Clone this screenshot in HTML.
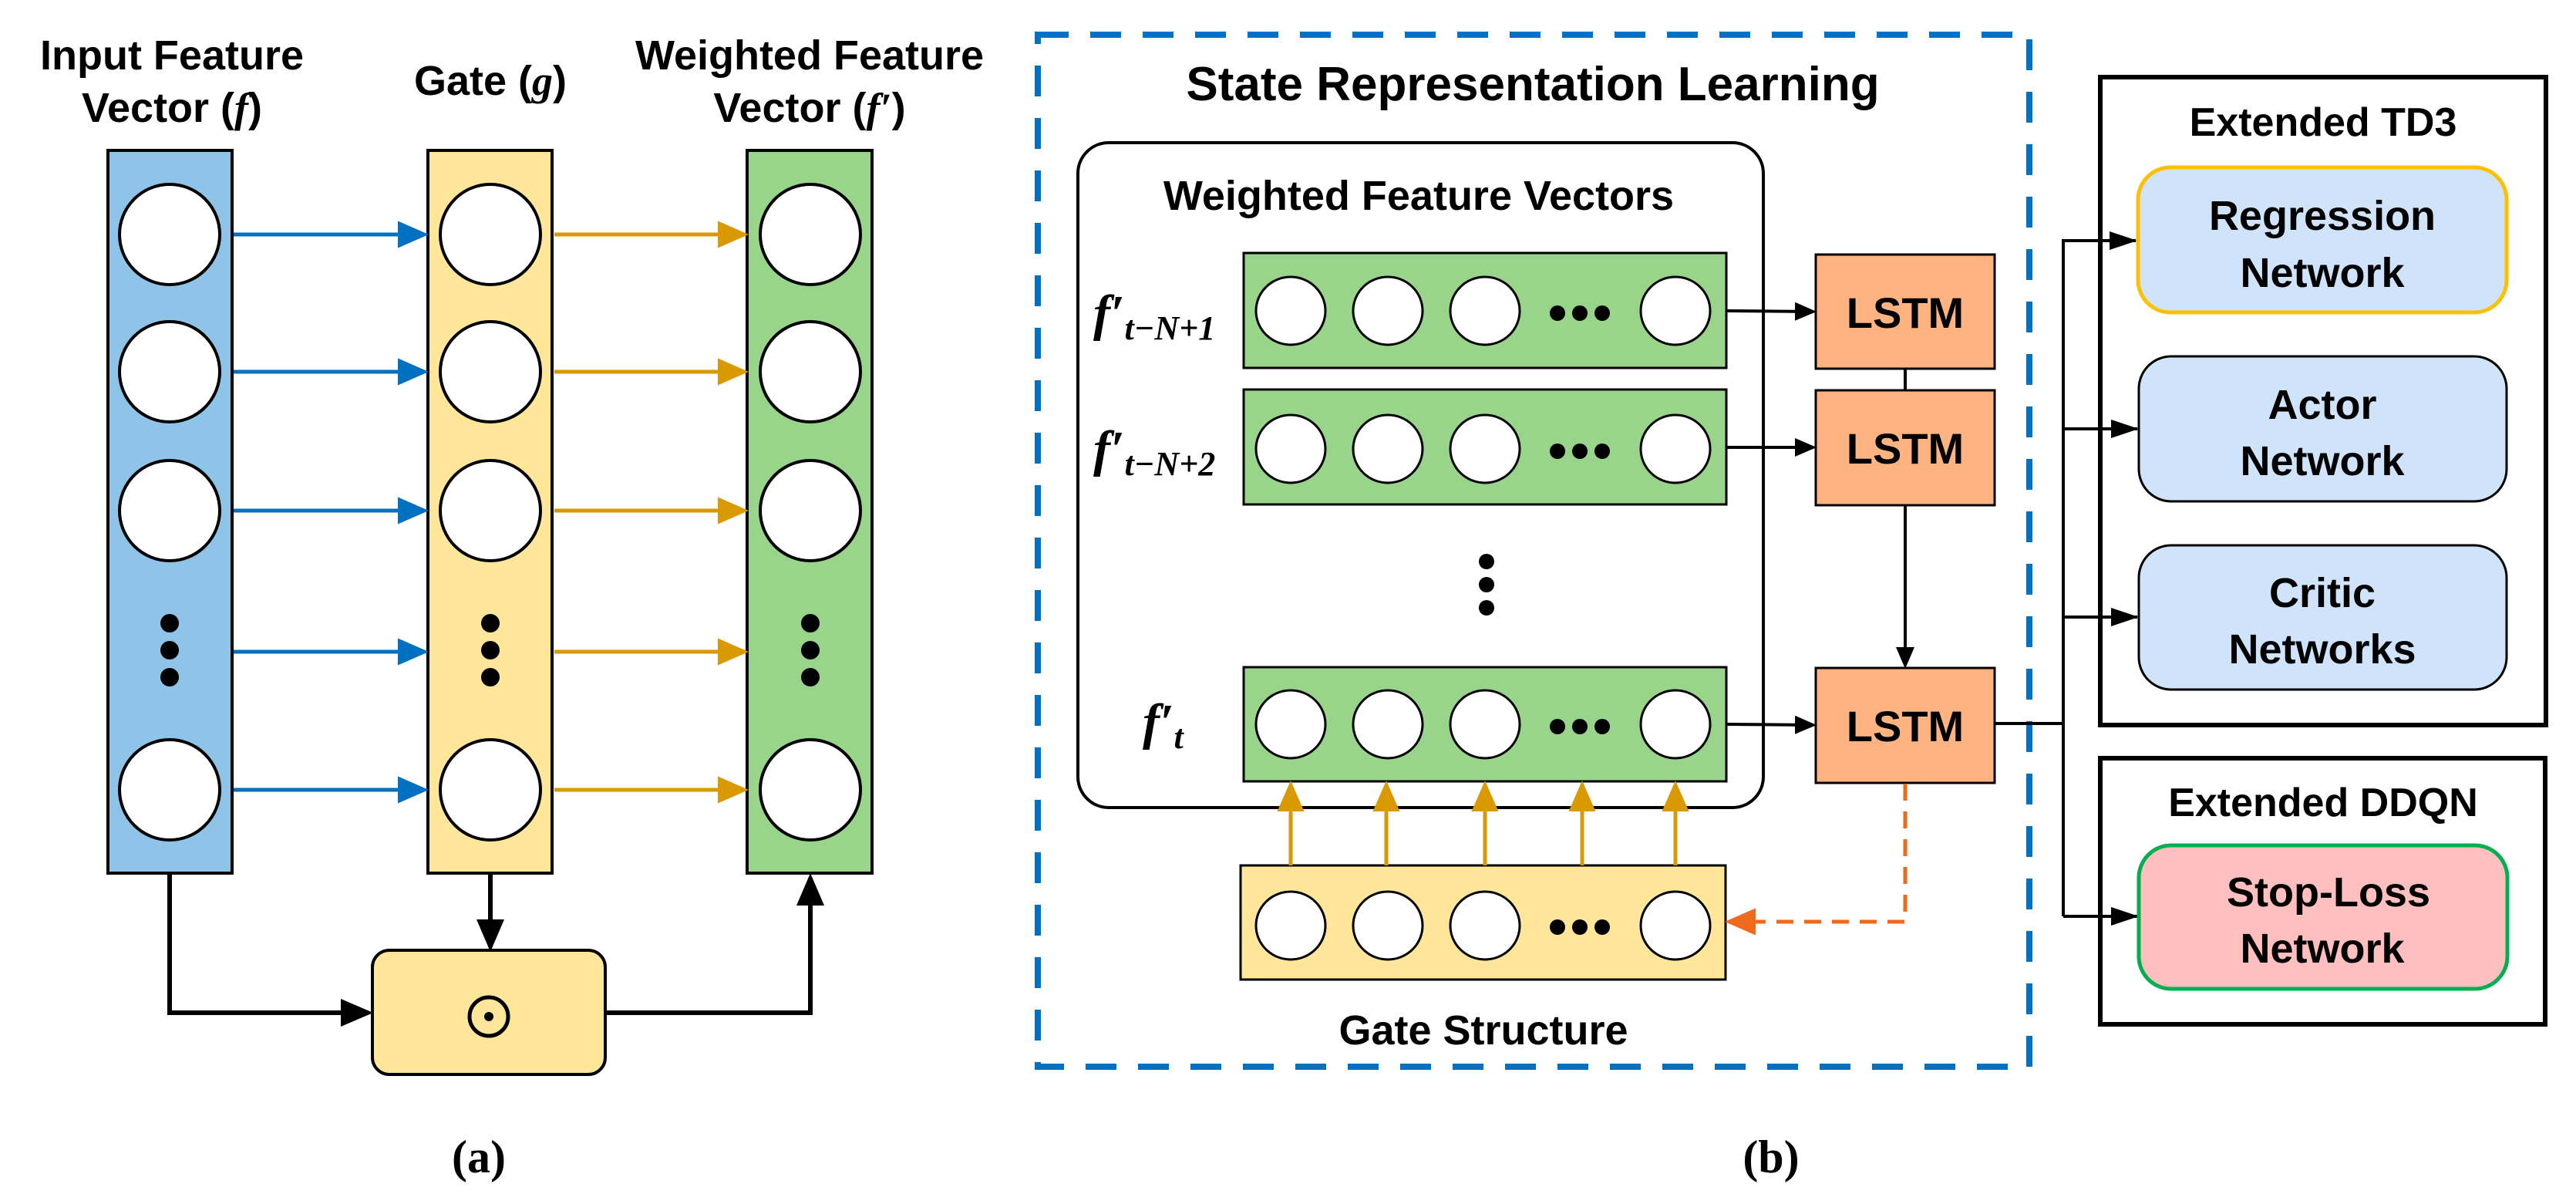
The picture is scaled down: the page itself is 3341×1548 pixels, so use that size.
<!DOCTYPE html>
<html><head><meta charset="utf-8"><style>
html,body{margin:0;padding:0;background:#fff;}
svg{display:block;}
text{font-family:"Liberation Sans",Arial,sans-serif;font-weight:bold;fill:#000;}
.serif{font-family:"Liberation Serif",serif;}
</style></head><body>
<svg width="3341" height="1548" viewBox="0 0 3341 1548" xmlns="http://www.w3.org/2000/svg">
<defs>
<marker id="ab" markerWidth="8" markerHeight="8" refX="7" refY="4" orient="auto" markerUnits="strokeWidth"><path d="M0,0.5 L8,4 L0,7.5 z" fill="#0070C0"/></marker>
<marker id="ao" markerWidth="8" markerHeight="8" refX="7" refY="4" orient="auto" markerUnits="strokeWidth"><path d="M0,0.5 L8,4 L0,7.5 z" fill="#D89A00"/></marker>
<marker id="ak" markerWidth="7" markerHeight="7" refX="6" refY="3.5" orient="auto" markerUnits="strokeWidth"><path d="M0,0.5 L7,3.5 L0,6.5 z" fill="#000"/></marker>
<marker id="ak2" markerWidth="9" markerHeight="8" refX="8.5" refY="4" orient="auto" markerUnits="strokeWidth"><path d="M0,1 L9,4 L0,7 z" fill="#000"/></marker>
<marker id="ar" markerWidth="8" markerHeight="8" refX="7" refY="4" orient="auto" markerUnits="strokeWidth"><path d="M0,0.5 L8,4 L0,7.5 z" fill="#F06A1E"/></marker>
</defs>

<!-- Panel (a) -->
<text x="223" y="90" font-size="54" text-anchor="middle">Input Feature</text>
<text x="223" y="158" font-size="54" text-anchor="middle">Vector (<tspan class="serif" font-style="italic">f</tspan>)</text>
<text x="636" y="123" font-size="54" text-anchor="middle">Gate (<tspan class="serif" font-style="italic">g</tspan>)</text>
<text x="1050" y="90" font-size="54" text-anchor="middle">Weighted Feature</text>
<text x="1050" y="158" font-size="54" text-anchor="middle">Vector (<tspan class="serif" font-style="italic">f′</tspan>)</text>

<rect x="140" y="195" width="161" height="937" fill="#8EC4E8" stroke="#000" stroke-width="4"/>
<rect x="555" y="195" width="161" height="937" fill="#FFE699" stroke="#000" stroke-width="4"/>
<rect x="969" y="195" width="162" height="937" fill="#98D48A" stroke="#000" stroke-width="4"/>
<g fill="#fff" stroke="#000" stroke-width="4">
<circle cx="220" cy="304" r="65"/><circle cx="220" cy="482" r="65"/><circle cx="220" cy="662" r="65"/><circle cx="220" cy="1024" r="65"/>
<circle cx="636" cy="304" r="65"/><circle cx="636" cy="482" r="65"/><circle cx="636" cy="662" r="65"/><circle cx="636" cy="1024" r="65"/>
<circle cx="1051" cy="304" r="65"/><circle cx="1051" cy="482" r="65"/><circle cx="1051" cy="662" r="65"/><circle cx="1051" cy="1024" r="65"/>
</g>
<g fill="#000">
<circle cx="220" cy="808" r="12"/><circle cx="220" cy="843" r="12"/><circle cx="220" cy="878" r="12"/>
<circle cx="636" cy="808" r="12"/><circle cx="636" cy="843" r="12"/><circle cx="636" cy="878" r="12"/>
<circle cx="1051" cy="808" r="12"/><circle cx="1051" cy="843" r="12"/><circle cx="1051" cy="878" r="12"/>
</g>
<g stroke="#0070C0" stroke-width="5" marker-end="url(#ab)">
<line x1="303" y1="304" x2="551" y2="304"/><line x1="303" y1="482" x2="551" y2="482"/><line x1="303" y1="662" x2="551" y2="662"/><line x1="303" y1="845" x2="551" y2="845"/><line x1="303" y1="1024" x2="551" y2="1024"/>
</g>
<g stroke="#D89A00" stroke-width="5" marker-end="url(#ao)">
<line x1="719" y1="304" x2="966" y2="304"/><line x1="719" y1="482" x2="966" y2="482"/><line x1="719" y1="662" x2="966" y2="662"/><line x1="719" y1="845" x2="966" y2="845"/><line x1="719" y1="1024" x2="966" y2="1024"/>
</g>
<rect x="483" y="1232" width="302" height="161" rx="22" fill="#FFE699" stroke="#000" stroke-width="4"/>
<circle cx="634" cy="1318" r="25" fill="none" stroke="#000" stroke-width="5"/>
<circle cx="634" cy="1318" r="6" fill="#000"/>
<g stroke="#000" stroke-width="6" fill="none">
<polyline points="220,1133 220,1313 478,1313" marker-end="url(#ak)"/>
<line x1="636" y1="1133" x2="636" y2="1228" marker-end="url(#ak)"/>
<polyline points="786,1313 1051,1313 1051,1138" marker-end="url(#ak)"/>
</g>
<text x="621" y="1520" font-size="60" class="serif" text-anchor="middle">(a)</text>

<!-- Panel (b) -->
<rect x="1346" y="45" width="1286" height="1338" fill="none" stroke="#0070C0" stroke-width="8" stroke-dasharray="40,28"/>
<text x="1988" y="130" font-size="62" text-anchor="middle">State Representation Learning</text>
<rect x="1398" y="185" width="889" height="862" rx="40" fill="none" stroke="#000" stroke-width="4"/>
<text x="1840" y="272" font-size="54" text-anchor="middle">Weighted Feature Vectors</text>

<g fill="#98D48A" stroke="#000" stroke-width="3">
<rect x="1613" y="328" width="626" height="149"/>
<rect x="1613" y="505" width="626" height="149"/>
<rect x="1613" y="865" width="626" height="148"/>
</g>
<rect x="1609" y="1122" width="629" height="148" fill="#FFE699" stroke="#000" stroke-width="3"/>
<g fill="#fff" stroke="#000" stroke-width="3">
<ellipse cx="1674" cy="403" rx="45" ry="44"/><ellipse cx="1800" cy="403" rx="45" ry="44"/><ellipse cx="1926" cy="403" rx="45" ry="44"/><ellipse cx="2173" cy="403" rx="45" ry="44"/>
<ellipse cx="1674" cy="582" rx="45" ry="44"/><ellipse cx="1800" cy="582" rx="45" ry="44"/><ellipse cx="1926" cy="582" rx="45" ry="44"/><ellipse cx="2173" cy="582" rx="45" ry="44"/>
<ellipse cx="1674" cy="939" rx="45" ry="44"/><ellipse cx="1800" cy="939" rx="45" ry="44"/><ellipse cx="1926" cy="939" rx="45" ry="44"/><ellipse cx="2173" cy="939" rx="45" ry="44"/>
<ellipse cx="1674" cy="1200" rx="45" ry="44"/><ellipse cx="1800" cy="1200" rx="45" ry="44"/><ellipse cx="1926" cy="1200" rx="45" ry="44"/><ellipse cx="2173" cy="1200" rx="45" ry="44"/>
</g>
<g fill="#000">
<circle cx="2020" cy="406" r="10"/><circle cx="2049" cy="406" r="10"/><circle cx="2078" cy="406" r="10"/>
<circle cx="2020" cy="585" r="10"/><circle cx="2049" cy="585" r="10"/><circle cx="2078" cy="585" r="10"/>
<circle cx="2020" cy="942" r="10"/><circle cx="2049" cy="942" r="10"/><circle cx="2078" cy="942" r="10"/>
<circle cx="2020" cy="1202" r="10"/><circle cx="2049" cy="1202" r="10"/><circle cx="2078" cy="1202" r="10"/>
<circle cx="1928" cy="728" r="10"/><circle cx="1928" cy="758" r="10"/><circle cx="1928" cy="788" r="10"/>
</g>
<text x="1418" y="428" font-size="66" class="serif" font-style="italic">f′<tspan font-size="44" dy="12">t−N+1</tspan></text>
<text x="1418" y="604" font-size="66" class="serif" font-style="italic">f′<tspan font-size="44" dy="12">t−N+2</tspan></text>
<text x="1482" y="958" font-size="66" class="serif" font-style="italic">f′<tspan font-size="44" dy="12">t</tspan></text>

<g fill="#FFB380" stroke="#000" stroke-width="3">
<rect x="2355" y="330" width="232" height="148"/>
<rect x="2355" y="506" width="232" height="149"/>
<rect x="2355" y="866" width="232" height="149"/>
</g>
<text x="2471" y="425" font-size="56" text-anchor="middle">LSTM</text>
<text x="2471" y="601" font-size="56" text-anchor="middle">LSTM</text>
<text x="2471" y="961" font-size="56" text-anchor="middle">LSTM</text>
<g stroke="#000" stroke-width="4" fill="none">
<line x1="2239" y1="403" x2="2352" y2="404" marker-end="url(#ak)"/>
<line x1="2239" y1="580" x2="2352" y2="580" marker-end="url(#ak)"/>
<line x1="2239" y1="939" x2="2352" y2="940" marker-end="url(#ak)"/>
<line x1="2471" y1="478" x2="2471" y2="506"/>
<line x1="2471" y1="655" x2="2471" y2="863" marker-end="url(#ak)"/>
</g>
<g stroke="#D89A00" stroke-width="5" marker-end="url(#ao)">
<line x1="1674" y1="1122" x2="1674" y2="1017"/><line x1="1798" y1="1122" x2="1798" y2="1017"/><line x1="1926" y1="1122" x2="1926" y2="1017"/><line x1="2052" y1="1122" x2="2052" y2="1017"/><line x1="2173" y1="1122" x2="2173" y2="1017"/>
</g>
<polyline points="2471,1016 2471,1195 2242,1195" fill="none" stroke="#F06A1E" stroke-width="5" stroke-dasharray="22,14" marker-end="url(#ar)"/>
<text x="1924" y="1354" font-size="54" text-anchor="middle">Gate Structure</text>
<text x="2297" y="1520" font-size="60" class="serif" text-anchor="middle">(b)</text>

<!-- Right -->
<g stroke="#000" stroke-width="4" fill="none">
<polyline points="2588,938 2676,938"/>
<line x1="2676" y1="310" x2="2676" y2="1188"/>
<line x1="2676" y1="312" x2="2770" y2="312" marker-end="url(#ak2)"/>
<line x1="2676" y1="556" x2="2772" y2="556" marker-end="url(#ak2)"/>
<line x1="2676" y1="800" x2="2772" y2="800" marker-end="url(#ak2)"/>
<line x1="2676" y1="1188" x2="2772" y2="1188" marker-end="url(#ak2)"/>
</g>
<rect x="2724" y="100" width="578" height="840" fill="none" stroke="#000" stroke-width="6"/>
<rect x="2724" y="983" width="577" height="345" fill="none" stroke="#000" stroke-width="6"/>
<text x="3013" y="176" font-size="52" text-anchor="middle">Extended TD3</text>
<text x="3013" y="1058" font-size="52" text-anchor="middle">Extended DDQN</text>
<rect x="2773" y="217" width="478" height="188" rx="42" fill="#CFE4FA" stroke="#FFC000" stroke-width="5"/>
<rect x="2774" y="462" width="477" height="188" rx="42" fill="#CFE4FA" stroke="#000" stroke-width="3"/>
<rect x="2774" y="707" width="477" height="187" rx="42" fill="#CFE4FA" stroke="#000" stroke-width="3"/>
<rect x="2774" y="1096" width="478" height="186" rx="42" fill="#FFBFBF" stroke="#00B050" stroke-width="5"/>
<g font-size="54" text-anchor="middle">
<text x="3012" y="298">Regression</text><text x="3012" y="372">Network</text>
<text x="3012" y="543">Actor</text><text x="3012" y="616">Network</text>
<text x="3012" y="787">Critic</text><text x="3012" y="860">Networks</text>
<text x="3020" y="1175">Stop-Loss</text><text x="3012" y="1248">Network</text>
</g>
</svg>
</body></html>
